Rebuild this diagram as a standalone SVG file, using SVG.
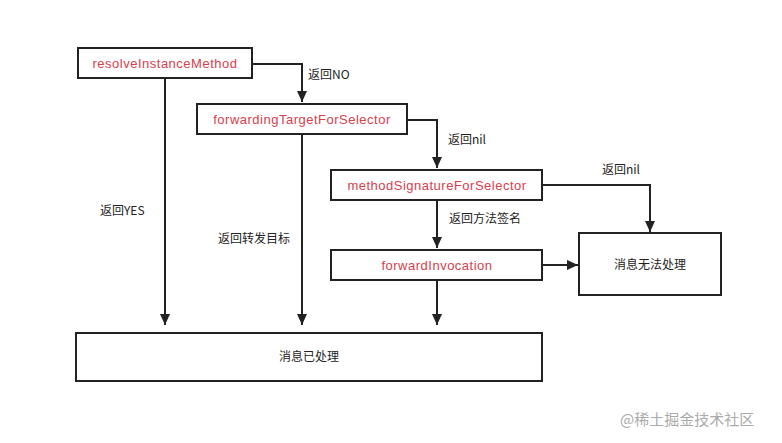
<svg xmlns="http://www.w3.org/2000/svg" width="782" height="443" viewBox="0 0 782 443">
<style>
.box{fill:#fff;stroke:#222;stroke-width:2}
.fn{font-family:"Liberation Sans","Noto Sans CJK SC",sans-serif;font-size:13px;letter-spacing:0.5px;fill:#d8404c;text-anchor:middle}
.cn{font-family:"Noto Sans CJK SC","Liberation Sans",sans-serif;font-size:12px;fill:#222;text-anchor:middle}
.lb{font-family:"Noto Sans CJK SC","Liberation Sans",sans-serif;font-size:12px;fill:#222}
.ln{fill:none;stroke:#222;stroke-width:2}
.wm{font-family:"Noto Sans CJK SC",sans-serif;font-size:15px;fill:#aaa}
</style>
<defs>
<marker id="ah" markerWidth="12" markerHeight="12" refX="11" refY="5.5" orient="auto" markerUnits="userSpaceOnUse">
<path d="M0,0.5 L11,5.5 L0,10.5 Z" fill="#222"/>
</marker>
</defs>
<rect width="782" height="443" fill="#fff"/>
<g id="connectors">
<path class="ln" d="M252,64 H302 V102" marker-end="url(#ah)"/>
<path class="ln" d="M407,120 H437 V168" marker-end="url(#ah)"/>
<path class="ln" d="M542,185 H650 V232" marker-end="url(#ah)"/>
<path class="ln" d="M437,200 V248" marker-end="url(#ah)"/>
<path class="ln" d="M542,265 H578" marker-end="url(#ah)"/>
<path class="ln" d="M165,78 V325" marker-end="url(#ah)"/>
<path class="ln" d="M302,134 V325" marker-end="url(#ah)"/>
<path class="ln" d="M437,280 V325" marker-end="url(#ah)"/>
<text class="lb" x="308" y="79">返回NO</text>
<text class="lb" x="448" y="144">返回nil</text>
<text class="lb" x="602" y="174">返回nil</text>
<text class="lb" x="449" y="223">返回方法签名</text>
<text class="lb" x="100" y="215">返回YES</text>
<text class="lb" x="218" y="243">返回转发目标</text>
</g>
<g id="resolveInstanceMethod">
<rect class="box" x="78" y="48" width="174" height="30"/>
<text class="fn" x="165" y="68">resolveInstanceMethod</text>
</g>
<g id="forwardingTargetForSelector">
<rect class="box" x="197" y="104" width="210" height="30"/>
<text class="fn" x="302" y="124">forwardingTargetForSelector</text>
</g>
<g id="methodSignatureForSelector">
<rect class="box" x="331" y="170" width="211" height="30"/>
<text class="fn" x="437" y="190">methodSignatureForSelector</text>
</g>
<g id="forwardInvocation">
<rect class="box" x="331" y="250" width="211" height="30"/>
<text class="fn" x="437" y="270">forwardInvocation</text>
</g>
<g id="unhandled">
<rect class="box" x="579" y="233" width="142" height="62"/>
<text class="cn" x="650" y="269">消息无法处理</text>
</g>
<g id="handled">
<rect class="box" x="76" y="333" width="466" height="48"/>
<text class="cn" x="309" y="361">消息已处理</text>
</g>
<text class="wm" x="620" y="425">@稀土掘金技术社区</text>
</svg>
